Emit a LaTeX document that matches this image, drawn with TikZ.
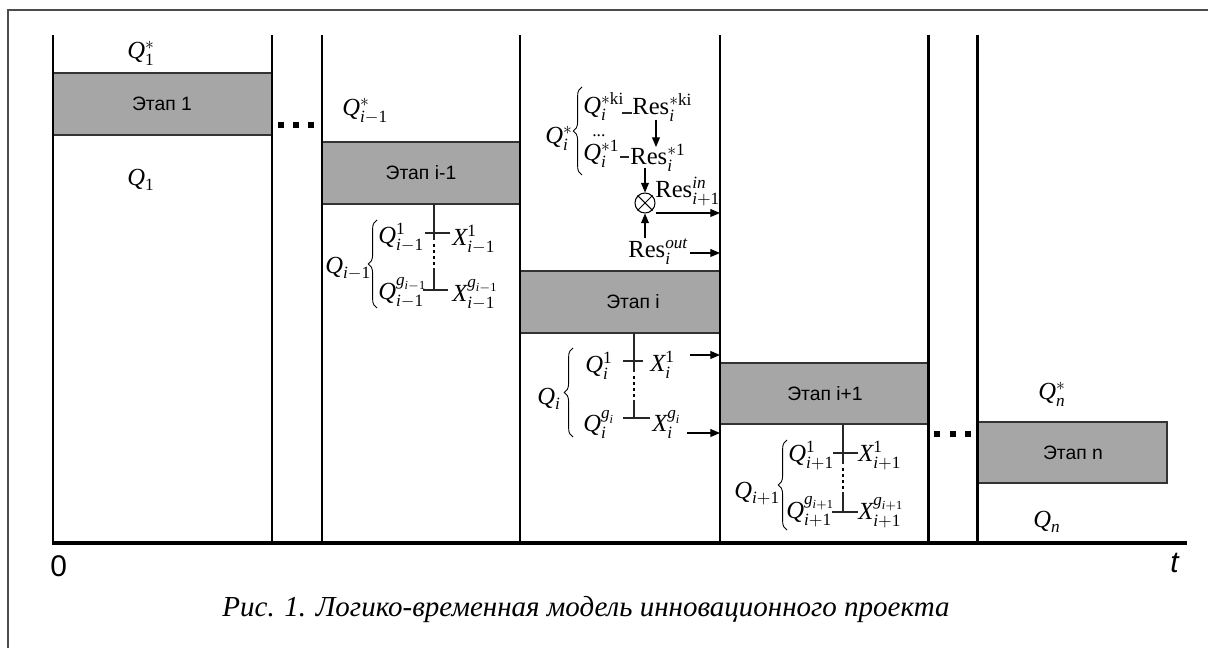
\documentclass[tikz,border=0pt]{standalone}
\usepackage{amsmath}
\usepackage{fontspec}
\setmainfont{Liberation Serif}
\newfontfamily\stagefont{Liberation Sans}
\usetikzlibrary{arrows.meta,decorations.pathreplacing}
% italic variable / upright text inside formulas, both in the serif text face
\newcommand{\vi}[1]{\textit{#1}}
\newcommand{\vu}[1]{\textup{#1}}
\definecolor{stagegray}{RGB}{166,166,166}
\begin{document}
\begin{tikzpicture}[x=0.02cm,y=-0.02cm,
  frameline/.style={line width=0.8pt, draw=black!70},
  timeline/.style={line width=1.7pt},
  axisline/.style={line width=2pt},
  stagebox/.style={draw=black!80, line width=0.6pt, fill=stagegray},
  stagelabel/.style={font=\stagefont\fontsize{11}{13}\selectfont, inner sep=0pt},
  ml/.style={inner sep=0pt, anchor=base west, font=\fontsize{14}{16}\selectfont},
  tickline/.style={line width=0.6pt, draw=black!85},
  dotline/.style={line width=1pt, dash pattern=on 1.5pt off 2pt},
  arr/.style={line width=0.6pt, -{Triangle[length=5.5pt,width=4.5pt]}},
  gbrace/.style={decorate, decoration={brace, amplitude=5pt}, line width=0.5pt},
  dotsq/.style={fill=black, inner sep=0pt, minimum size=0.12cm},
  axislabel/.style={font=\stagefont\fontsize{17}{19}\selectfont, inner sep=0pt, anchor=base west}]
\useasboundingbox (0,0) rectangle (1208,648);

% outer frame (top and left edges)
\draw[frameline] (8,648) -- (8,10) -- (1208,10);

% stage bars
\draw[stagebox] (53,73) rectangle (272,135);
\node[stagelabel] (st1) at (162,104) {Этап 1};
\draw[stagebox] (322,142) rectangle (520,204);
\node[stagelabel] (stim1) at (421,173) {Этап i-1};
\draw[stagebox] (520,271) rectangle (720,333);
\node[stagelabel] (sti) at (633,302) {Этап i};
\draw[stagebox] (720,363) rectangle (928,424);
\node[stagelabel] (stip1) at (825,394) {Этап i+1};
\draw[stagebox] (977,422) rectangle (1167,483);
\node[stagelabel] (stn) at (1073,453) {Этап n};

% time boundaries and axis
\foreach \x in {53,272,322,520,720,928,977}
  \draw[timeline] (\x,35) -- (\x,543);
\draw[axisline] (52,543) -- (1187,543);
\node[axislabel] (zero) at (50,577) {0};
\node[axislabel, font=\stagefont\itshape\fontsize{17}{19}\selectfont] (tlab) at (1170,573) {t};

% omitted stages
\foreach \x [count=\k] in {281,296,311}
  \node[dotsq] (da\k) at (\x,125) {};
\foreach \x [count=\k] in {937,953,968}
  \node[dotsq] (db\k) at (\x,434) {};

% stage 1
\node[ml] (q1s) at (127,59) {$\vi{Q}^{*}_{\vu{1}}$};
\node[ml] (q1) at (127,186) {$\vi{Q}_{\vu{1}}$};

% stage i-1
\node[ml] (qim1s) at (342,116) {$\vi{Q}^{*}_{\vi{i}-\vu{1}}$};
\node[ml] (qim1) at (325,274) {$\vi{Q}_{\vi{i}-\vu{1}}$};
\draw[gbrace] (377,308) -- (377,220);
\node[ml] (qim1a) at (378,244) {$\vi{Q}^{\vu{1}}_{\vi{i}-\vu{1}}$};
\node[ml] (xim1a) at (452,246) {$\vi{X}^{\vu{1}}_{\vi{i}-\vu{1}}$};
\node[ml] (qim1g) at (378,300) {$\vi{Q}^{\vi{g}_{\vi{i}-\vu{1}}}_{\vi{i}-\vu{1}}$};
\node[ml] (xim1g) at (452,302) {$\vi{X}^{\vi{g}_{\vi{i}-\vu{1}}}_{\vi{i}-\vu{1}}$};
\draw[tickline] (434,204) -- (434,240);
\draw[dotline] (434,244) -- (434,266);
\draw[tickline] (434,268) -- (434,290);
\draw[tickline] (425,233) -- (450,233);
\draw[tickline] (423,290) -- (448,290);

% stage i: requirements and resources
\node[ml] (qis) at (545,144) {$\vi{Q}^{*}_{\vi{i}}$};
\draw[gbrace] (582,175) -- (582,87);
\node[ml] (qiki) at (583,114) {$\vi{Q}^{*\vu{ki}}_{\vi{i}}$};
\node[ml] (resiki) at (632,115) {$\vu{Res}^{*\vu{ki}}_{\vi{i}}$};
\node[inner sep=0pt, anchor=base west, font=\fontsize{10}{12}\selectfont] (qidots) at (592,137) {...};
\node[ml] (qi1s) at (583,161) {$\vi{Q}^{*\vu{1}}_{\vi{i}}$};
\node[ml] (resi1) at (630,165) {$\vu{Res}^{*\vu{1}}_{\vi{i}}$};
\draw[tickline] (622,113) -- (632,113);
\draw[tickline] (620,157) -- (629,157);
\node[circle, draw, line width=0.6pt, minimum size=0.4cm, inner sep=0pt] (mul) at (645,203) {};
\draw[line width=0.6pt] (mul.north east) -- (mul.south west) (mul.north west) -- (mul.south east);
\node[ml] (resin) at (655,198) {$\vu{Res}^{\vi{in}}_{\vi{i}+\vu{1}}$};
\node[ml] (resout) at (628,258) {$\vu{Res}^{\vi{out}}_{\vi{i}}$};
\coordinate (a1s) at (656,120);
\coordinate (a1e) at (656,147);
\coordinate (a2s) at (645,168);
\coordinate (a4s) at (645,238);
\coordinate (inend) at (720,213);
\coordinate (outs) at (690,253);
\coordinate (outend) at (720,253);
\draw[arr] (a1s) -- (a1e);
\draw[arr] (a2s) -- (mul.north);
\draw[arr] (a4s) -- (mul.south);
\draw[arr] (mul.east |- inend) -- (inend);
\draw[arr] (outs) -- (outend);

% stage i: results
\node[ml] (qi) at (537,405) {$\vi{Q}_{\vi{i}}$};
\draw[gbrace] (573,437) -- (573,348);
\node[ml] (qi1) at (585,373) {$\vi{Q}^{\vu{1}}_{\vi{i}}$};
\node[ml] (xi1) at (650,372) {$\vi{X}^{\vu{1}}_{\vi{i}}$};
\node[ml] (qig) at (583,432) {$\vi{Q}^{\vi{g}_{\vi{i}}}_{\vi{i}}$};
\node[ml] (xig) at (652,432) {$\vi{X}^{\vi{g}_{\vi{i}}}_{\vi{i}}$};
\draw[tickline] (634,333) -- (634,372);
\draw[dotline] (634,376) -- (634,398);
\draw[tickline] (634,400) -- (634,418);
\draw[tickline] (623,361) -- (643,361);
\draw[tickline] (623,418) -- (650,418);
\coordinate (x1s) at (690,355);
\coordinate (x1e) at (720,355);
\coordinate (xgs) at (687,433);
\coordinate (xge) at (720,433);
\draw[arr] (x1s) -- (x1e);
\draw[arr] (xgs) -- (xge);

% stage i+1
\node[ml] (qip1) at (734,499) {$\vi{Q}_{\vi{i}+\vu{1}}$};
\draw[gbrace] (787,530) -- (787,440);
\node[ml] (qip1a) at (788,462) {$\vi{Q}^{\vu{1}}_{\vi{i}+\vu{1}}$};
\node[ml] (xip1a) at (858,462) {$\vi{X}^{\vu{1}}_{\vi{i}+\vu{1}}$};
\node[ml] (qip1g) at (786,519) {$\vi{Q}^{\vi{g}_{\vi{i}+\vu{1}}}_{\vi{i}+\vu{1}}$};
\node[ml] (xip1g) at (858,520) {$\vi{X}^{\vi{g}_{\vi{i}+\vu{1}}}_{\vi{i}+\vu{1}}$};
\draw[tickline] (843,424) -- (843,464);
\draw[dotline] (843,468) -- (843,490);
\draw[tickline] (843,492) -- (843,512);
\draw[tickline] (833,453) -- (858,453);
\draw[tickline] (832,512) -- (858,512);

% stage n
\node[ml] (qns) at (1038,400) {$\vi{Q}^{*}_{\vi{n}}$};
\node[ml] (qn) at (1033,528) {$\vi{Q}_{\vi{n}}$};

% caption
\node[inner sep=0pt, font=\fontsize{16.5}{19}\selectfont\itshape] (caption) at (586,610)
  {Рис. 1. Логико-временная модель инновационного проекта};
\end{tikzpicture}
\end{document}
